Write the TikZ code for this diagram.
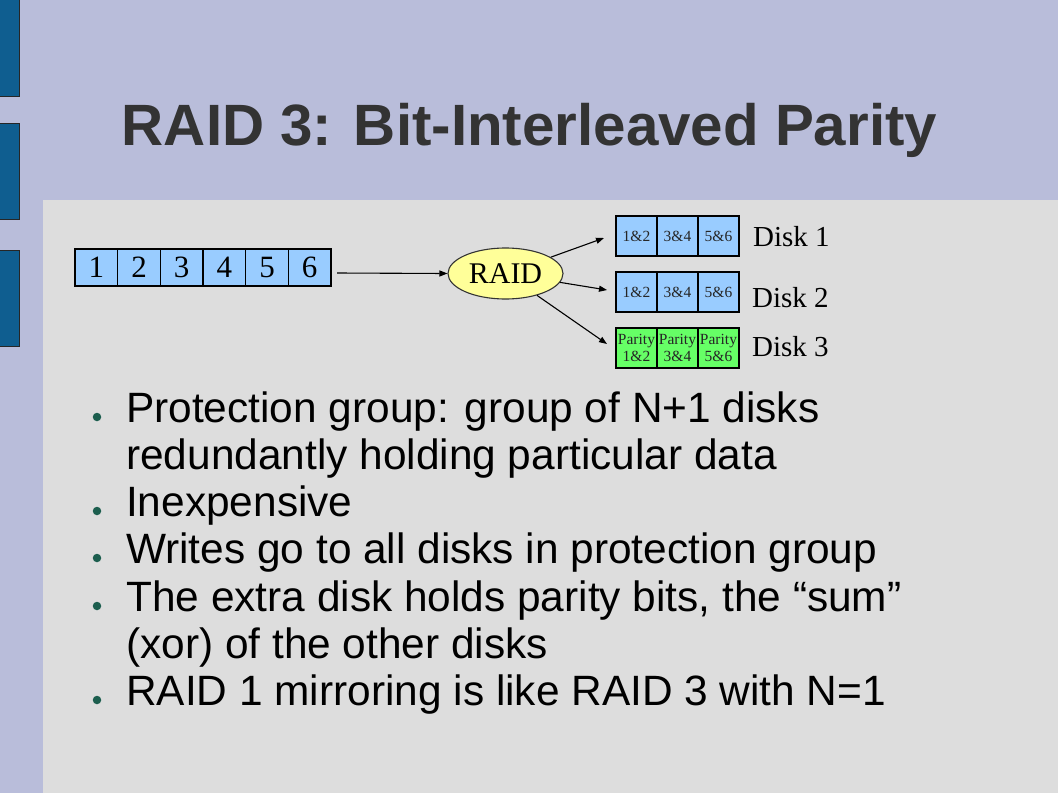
\documentclass[tikz,border=0pt]{standalone}
\usepackage{fontspec}
\setmainfont{Liberation Serif}
\newfontfamily\arialf{Liberation Sans}
\usetikzlibrary{shapes.geometric,arrows.meta}
\definecolor{lav}{HTML}{B9BDDA}
\definecolor{panel}{HTML}{DDDDDD}
\definecolor{barblue}{HTML}{0F5E90}
\definecolor{cellblue}{HTML}{99CCFF}
\definecolor{cellgreen}{HTML}{66FF66}
\definecolor{ellfill}{HTML}{FFFF99}
\definecolor{titlecol}{HTML}{333333}
\definecolor{bulcol}{HTML}{1C5E4E}
\tikzset{
  numcell/.style={draw=black, line width=1.2pt, fill=cellblue, inner sep=0pt,
    minimum width=42.67pt, minimum height=37pt, font=\fontsize{31}{31}\selectfont},
  diskcell/.style={draw=black, line width=1.1pt, fill=cellblue, inner sep=0pt,
    minimum width=41pt, minimum height=40pt, text=black!85, font=\fontsize{15.5}{15}\selectfont},
  paritycell/.style={diskcell, fill=cellgreen, align=center, font=\fontsize{15.5}{17}\selectfont},
  disklabel/.style={anchor=west, inner sep=0pt, font=\fontsize{29}{29}\selectfont},
  arr/.style={line width=1.1pt, -{Triangle[length=8pt,width=6pt]}},
  bullettext/.style={anchor=base west, inner sep=0pt, font=\arialf\fontsize{42.4}{47}\selectfont},
  bulletdot/.style={circle, fill=bulcol, inner sep=0pt, minimum size=8.5pt},
  bar/.style={fill=barblue, draw=black!85, line width=0.8pt}
}
\begin{document}
\begin{tikzpicture}[x=1pt,y=-1pt]
\useasboundingbox (0,0) rectangle (1058,793);
\fill[lav] (0,0) rectangle (1058,793);
\fill[panel] (43,200) rectangle (1058,793);
\draw[bar] (-2,-2) rectangle (19,96);
\draw[bar] (-2,123) rectangle (19,219);
\draw[bar] (-2,250) rectangle (19,346);

\node[anchor=base, inner sep=0pt, text=titlecol, font=\arialf\bfseries\fontsize{58.3}{58}\selectfont]
  (title) at (529.5,145) {RAID 3: Bit-Interleaved Parity};

% row of data blocks
\foreach \i in {1,...,6} {
  \node[numcell] (c\i) at ({75+42.67*(\i-0.5)},267.5) {\i};
}

% RAID ellipse
\node[ellipse, draw=black!80, line width=1.1pt, fill=ellfill, minimum width=115pt,
  minimum height=51pt, inner sep=0pt, font=\fontsize{30}{30}\selectfont] (raid) at (505.5,273.5) {RAID};
\coordinate (s0) at (337,273);
\draw[arr] (s0) -- (raid.west);

% disks
\foreach \r/\y in {1/236,2/292} {
  \node[diskcell] (d\r a) at (636.5,\y) {1\&2};
  \node[diskcell] (d\r b) at (677.5,\y) {3\&4};
  \node[diskcell] (d\r c) at (718.5,\y) {5\&6};
}
\node[paritycell] (d3a) at (636.5,348) {Parity\\1\&2};
\node[paritycell] (d3b) at (677.5,348) {Parity\\3\&4};
\node[paritycell] (d3c) at (718.5,348) {Parity\\5\&6};

\node[disklabel] (l1) at (753,237) {Disk 1};
\node[disklabel] (l2) at (752,298) {Disk 2};
\node[disklabel] (l3) at (752,347) {Disk 3};

\coordinate (t1) at (604,238);
\coordinate (t2) at (607,290);
\coordinate (t3) at (607,344);
\draw[arr] (raid) -- (t1);
\draw[arr] (raid) -- (t2);
\draw[arr] (raid) -- (t3);

% bullets
\node[bullettext] (b1) at (126,422) {Protection group: group of N+1 disks};
\node[bullettext] (b1b) at (126,469) {redundantly holding particular data};
\node[bullettext] (b2) at (126,516) {Inexpensive};
\node[bullettext] (b3) at (126,563) {Writes go to all disks in protection group};
\node[bullettext] (b4) at (126,611) {The extra disk holds parity bits, the “sum”};
\node[bullettext] (b4b) at (126,658) {(xor) of the other disks};
\node[bullettext] (b5) at (126,705) {RAID 1 mirroring is like RAID 3 with N=1};
\foreach \yy/\n in {417/1,511/2,558/3,606/4,700/5} {
  \node[bulletdot] (dot\n) at (97,\yy) {};
}
\end{tikzpicture}
\end{document}
